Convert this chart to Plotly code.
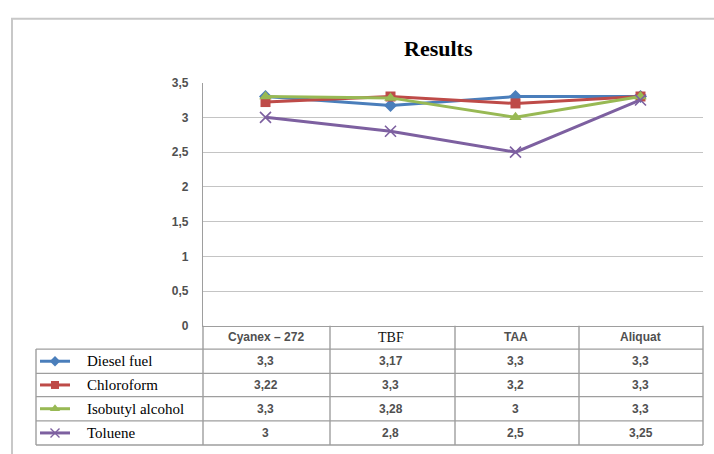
import plotly.graph_objects as go

# ---- data ----
categories = ["Cyanex – 272", "TBF", "TAA", "Aliquat"]
series_names = ["Diesel fuel", "Chloroform", "Isobutyl alcohol", "Toluene"]
diesel_fuel = [3.3, 3.17, 3.3, 3.3]
chloroform = [3.22, 3.3, 3.2, 3.3]
isobutyl_alcohol = [3.3, 3.28, 3.0, 3.3]
toluene = [3.0, 2.8, 2.5, 3.25]
y_ticks = [0, 0.5, 1, 1.5, 2, 2.5, 3, 3.5]

series_values = [diesel_fuel, chloroform, isobutyl_alcohol, toluene]

# ---- styling ----
W, H = 714, 454
colors = ["#4A7EBB", "#BE4B48", "#98B954", "#7D60A0"]
symbols = ["diamond", "square", "triangle-up", "x-thin"]
msizes = [10, 10, 11, 11]
text_color = "#505050"
grid_color = "#C4C4C4"
border_color = "#9E9E9E"
sans = "Liberation Sans, Arial, sans-serif"
serif = "Liberation Serif, Times New Roman, serif"
header_fonts = {"TBF": (serif, 14, "#111111", "normal")}

# pixel layout of the plot area and data table
plot_l, plot_r, plot_t, plot_b = 203, 703, 78, 329
col_edges = [203, 330, 455, 579, 703]
row_edges = [353, 378, 402, 427, 452]
legend_l = 36


def px(x):
    return x / W


def py(y):
    return 1 - y / H


def fmt(v):
    return f"{v:g}".replace(".", ",")


fig = go.Figure()

# main lines
for name, vals, c, s, ms in zip(series_names, series_values, colors, symbols, msizes):
    fig.add_trace(go.Scatter(
        x=categories, y=vals, name=name, mode="lines+markers",
        line=dict(color=c, width=3),
        marker=dict(symbol=s, size=ms, color=c,
                    line=dict(color=c, width=1.6 if s == "x-thin" else 0)),
        xaxis="x", yaxis="y", showlegend=False, cliponaxis=False,
    ))

# legend keys in the table's first column
for i, (c, s, ms) in enumerate(zip(colors, symbols, msizes)):
    yc = (row_edges[i] + row_edges[i + 1]) / 2
    fig.add_trace(go.Scatter(
        x=[40, 70], y=[yc, yc], mode="lines", line=dict(color=c, width=3),
        xaxis="x2", yaxis="y2", showlegend=False, hoverinfo="skip",
    ))
    fig.add_trace(go.Scatter(
        x=[55], y=[yc], mode="markers",
        marker=dict(symbol=s, size=ms - 2, color=c,
                    line=dict(color=c, width=1.4 if s == "x-thin" else 0)),
        xaxis="x2", yaxis="y2", showlegend=False, hoverinfo="skip",
    ))

annotations = []
shapes = []

# title
annotations.append(dict(
    text="<b>Results</b>", x=px(438.5), y=py(43), xref="paper", yref="paper",
    xanchor="center", yanchor="middle", showarrow=False,
    font=dict(family=serif, size=22, color="#000000"),
))

# table header: category names
for cat in categories:
    fam, size, col, wt = header_fonts.get(cat, (sans, 12, text_color, "bold"))
    annotations.append(dict(
        text=cat, x=cat, y=py((plot_b + row_edges[0]) / 2), xref="x", yref="paper",
        xanchor="center", yanchor="middle", showarrow=False,
        font=dict(family=fam, size=size, color=col, weight=wt),
    ))

# table body: series names and values
for i, (name, vals) in enumerate(zip(series_names, series_values)):
    yc = (row_edges[i] + row_edges[i + 1]) / 2
    annotations.append(dict(
        text=name, x=px(85), y=py(yc), xref="paper", yref="paper",
        xanchor="left", yanchor="middle", showarrow=False,
        font=dict(family=serif, size=15, color="#000000"),
    ))
    for cat, v in zip(categories, vals):
        annotations.append(dict(
            text=fmt(v), x=cat, y=py(yc), xref="x", yref="paper",
            xanchor="center", yanchor="middle", showarrow=False,
            font=dict(family=sans, size=12, color=text_color, weight="bold"),
        ))

# table grid lines
for y in row_edges:
    shapes.append(dict(type="line", xref="paper", yref="paper",
                       x0=px(legend_l), x1=px(plot_r), y0=py(y), y1=py(y),
                       line=dict(color=border_color, width=1.4)))
shapes.append(dict(type="line", xref="paper", yref="paper",
                   x0=px(legend_l), x1=px(legend_l), y0=py(row_edges[0]), y1=py(row_edges[-1]),
                   line=dict(color=border_color, width=1.4)))
for x in col_edges:
    shapes.append(dict(type="line", xref="paper", yref="paper",
                       x0=px(x), x1=px(x), y0=py(plot_b), y1=py(row_edges[-1]),
                       line=dict(color=border_color, width=1.4)))

# chart frame
shapes.append(dict(type="rect", xref="paper", yref="paper",
                   x0=px(12), x1=px(730), y0=py(12), y1=py(470),
                   line=dict(color="#C8C8C8", width=2)))

fig.update_layout(
    width=W, height=H,
    margin=dict(l=0, r=0, t=0, b=0),
    paper_bgcolor="white", plot_bgcolor="rgba(0,0,0,0)",
    xaxis=dict(
        domain=[px(plot_l), px(plot_r)], type="category",
        categoryorder="array", categoryarray=categories,
        range=[-0.5, len(categories) - 0.5],
        showticklabels=False, showgrid=False, zeroline=False,
        showline=True, linecolor=border_color, linewidth=1.4,
        ticks="", anchor="y", fixedrange=True,
    ),
    yaxis=dict(
        domain=[py(plot_b), py(plot_t)], range=[0, 3.5],
        tickvals=y_ticks, ticktext=[fmt(v) for v in y_ticks],
        tickfont=dict(family=sans, size=12, color=text_color, weight="bold"),
        showgrid=True, gridcolor=grid_color, gridwidth=1.4,
        zeroline=False, showline=True, linecolor=border_color, linewidth=1.4,
        ticks="", ticklabelstandoff=11, anchor="x", fixedrange=True,
    ),
    xaxis2=dict(domain=[0, 1], range=[0, W], visible=False, anchor="y2", fixedrange=True),
    yaxis2=dict(domain=[0, 1], range=[H, 0], visible=False, anchor="x2", fixedrange=True),
    annotations=annotations,
    shapes=shapes,
)

fig.write_html("out.html")
